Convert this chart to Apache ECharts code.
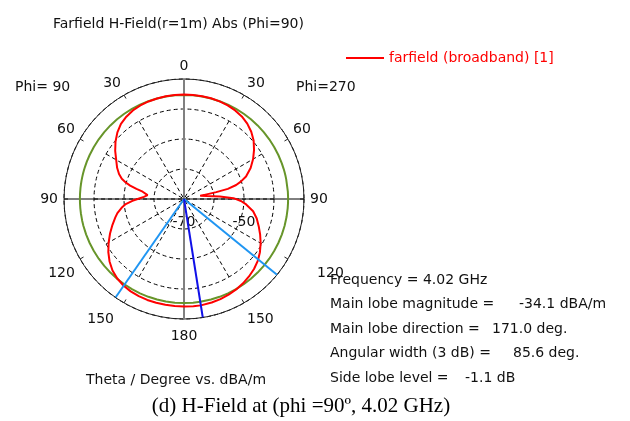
<!DOCTYPE html>
<html>
<head>
<meta charset="utf-8">
<script src="https://cdn.jsdelivr.net/npm/echarts@6/dist/echarts.min.js"></script>
<style>
  html, body { margin: 0; background: #fff; }
  #chart { width: 630px; height: 421px; }
</style>
</head>
<body>
<div id="chart"></div>
<script>
// theta in degrees (clockwise from top), farfield in dBA/m
const theta = [0, 5, 10, 15, 20, 25, 30, 35, 40, 45, 50, 55, 60, 65, 70, 73, 75, 77, 78, 79, 86, 89, 92, 95, 100, 105, 110, 115, 120, 125, 130, 135, 140, 145, 150, 155, 160, 165, 171, 175, 180, 185, 190, 195, 200, 205, 210, 215, 220, 225, 230, 235, 240, 245, 250, 255, 258, 262, 265, 268, 271, 273, 276, 278, 280, 282, 284, 286, 288, 291, 295, 300, 305, 310, 315, 320, 325, 330, 335, 340, 345, 350, 355, 360]
const farfield = [-35.2, -35.2, -35.2, -35.25, -35.35, -35.55, -35.9, -36.4, -37.2, -38.3, -39.7, -41.5, -43.4, -45.5, -48.0, -50.2, -52.0, -55.0, -59.0, -64.5, -58.0, -53.5, -51.0, -49.2, -46.6, -44.9, -43.5, -42.0, -40.5, -39.1, -37.9, -37.0, -36.3, -35.7, -35.2, -34.8, -34.5, -34.3, -34.1, -34.15, -34.2, -34.2, -34.2, -34.2, -34.2, -34.3, -34.45, -34.8, -35.4, -36.3, -37.6, -39.2, -41.0, -42.8, -44.6, -46.3, -47.3, -49.0, -50.5, -52.8, -55.3, -56.6, -57.8, -57.3, -56.0, -53.8, -51.5, -49.7, -48.2, -46.8, -45.4, -43.9, -42.0, -40.2, -38.6, -37.3, -36.5, -35.9, -35.6, -35.4, -35.3, -35.25, -35.2, -35.2]

const mainLobeDir = 171.0
const beamEdges = [129.2, 214.8]
const refLevel = -35.3
const rMin = -70
const rMax = -30
const radiusLabels = [-70, -50]

const infoLabels = ["Frequency = 4.02 GHz", "Main lobe magnitude =", "Main lobe direction =", "Angular width (3 dB) =", "Side lobe level ="]
const infoValues = ["", "-34.1 dBA/m", "171.0 deg.", "85.6 deg.", "-1.1 dB"]
const infoValueX = [0, 519, 492, 513, 465]

const FONT = '"DejaVu Sans", Verdana, sans-serif'
const center = [184, 199]

const chart = echarts.init(document.getElementById("chart"))

const ray = (a) => [[rMin, a], [rMax, a]]

const graphics = []
infoLabels.forEach((t, i) => {
  const y = 280 + i * 24.6
  graphics.push({ type: "text", x: 330, y: y, style: { text: t, font: "14px " + FONT, fill: "#111", verticalAlign: "middle" } })
  if (infoValues[i]) {
    graphics.push({ type: "text", x: infoValueX[i], y: y, style: { text: infoValues[i], font: "14px " + FONT, fill: "#111", verticalAlign: "middle" } })
  }
})
graphics.push({ type: "text", x: 15, y: 87, style: { text: "Phi= 90", font: "14px " + FONT, fill: "#111", verticalAlign: "middle" } })
graphics.push({ type: "text", x: 296, y: 87, style: { text: "Phi=270", font: "14px " + FONT, fill: "#111", verticalAlign: "middle" } })
graphics.push({ type: "text", x: 86, y: 380, style: { text: "Theta / Degree vs. dBA/m", font: "14px " + FONT, fill: "#111", verticalAlign: "middle" } })
graphics.push({ type: "text", x: 301, y: 406, style: { text: "(d) H-Field at (phi =90º, 4.02 GHz)", font: '21px "Liberation Serif", "Times New Roman", serif', fill: "#000", align: "center", verticalAlign: "middle" } })

const labelRich = {
  n: { fontFamily: FONT, fontSize: 14, color: "#111" },
  b: { fontFamily: FONT, fontSize: 14, color: "#111", padding: [4, 0, 0, 0] },
  r120: { fontFamily: FONT, fontSize: 14, color: "#111", padding: [4, 0, 0, 24] },
  l150: { fontFamily: FONT, fontSize: 14, color: "#111", padding: [4, 7, 0, 0] },
}

const angleLabel = (v) => {
  if (v === 360) return ""
  const shown = v > 180 ? 360 - v : v
  if (v === 120) return "{r120|" + shown + "}"
  if (v === 210) return "{l150|" + shown + "}"
  if (v >= 150 && v <= 240) return "{b|" + shown + "}"
  return "{n|" + shown + "}"
}

const option = {
  animation: false,
  backgroundColor: "#fff",
  title: {
    text: "Farfield H-Field(r=1m) Abs (Phi=90)",
    left: 48,
    top: 12,
    textStyle: { fontFamily: FONT, fontSize: 14, fontWeight: "normal", color: "#111" },
  },
  legend: {
    data: ["farfield (broadband) [1]"],
    left: 341,
    top: 46,
    icon: "rect",
    itemWidth: 38,
    itemHeight: 2,
    itemGap: 8,
    textStyle: { fontFamily: FONT, fontSize: 14, color: "#ff0000" },
  },
  polar: [
    { center: center, radius: 120 },
    { center: center, radius: 90 },
    { center: center, radius: 120 },
  ],
  angleAxis: [
    {
      polarIndex: 0,
      type: "value",
      min: 0,
      max: 360,
      interval: 30,
      startAngle: 90,
      clockwise: true,
      axisLine: { lineStyle: { color: "#222", width: 1 } },
      axisTick: { show: true, inside: true, length: 4, lineStyle: { color: "#222" } },
      axisLabel: {
        margin: 6,
        fontFamily: FONT,
        fontSize: 14,
        color: "#111",
        formatter: angleLabel,
        rich: labelRich,
      },
      splitLine: { show: false },
    },
    {
      polarIndex: 1,
      type: "value",
      min: 0,
      max: 360,
      interval: 30,
      startAngle: 90,
      clockwise: true,
      axisLine: { show: false },
      axisTick: { show: false },
      axisLabel: { show: false },
      splitLine: { show: true, lineStyle: { color: "#000", type: [4, 3], width: 1 } },
    },
    {
      polarIndex: 2,
      type: "value",
      min: 0,
      max: 360,
      startAngle: 0,
      show: false,
    },
  ],
  radiusAxis: [
    {
      polarIndex: 0,
      type: "value",
      min: rMin,
      max: rMax,
      interval: 10,
      axisLine: { show: false },
      axisTick: { show: false },
      axisLabel: { show: false },
      splitLine: { show: true, lineStyle: { color: "#000", type: [4, 3], width: 1 } },
    },
    { polarIndex: 1, type: "value", min: 0, max: 1, show: false },
    {
      polarIndex: 2,
      type: "value",
      min: rMin,
      max: rMax,
      interval: 10,
      axisLine: { show: false },
      axisTick: { show: false },
      splitLine: { show: false },
      axisLabel: {
        margin: -23,
        verticalAlign: "middle",
        fontFamily: FONT,
        fontSize: 14,
        color: "#111",
        formatter: (v) => (radiusLabels.includes(v) ? String(v) : ""),
      },
    },
  ],
  series: [
    {
      type: "line", coordinateSystem: "polar", polarIndex: 0, silent: true, symbol: "none",
      data: [[rMax, 0], [rMin, 0], [rMax, 180]],
      lineStyle: { color: "#808080", width: 2 },
    },
    {
      type: "line", coordinateSystem: "polar", polarIndex: 0, silent: true, symbol: "none",
      data: [[rMax, 90], [rMin, 90], [rMax, 270]],
      lineStyle: { color: "#000", width: 1 },
    },
    {
      type: "line", coordinateSystem: "polar", polarIndex: 0, silent: true, symbol: "none",
      data: theta.map((t) => [refLevel, t]),
      lineStyle: { color: "#67952a", width: 2 },
    },
    {
      name: "farfield (broadband) [1]",
      type: "line", coordinateSystem: "polar", polarIndex: 0, symbol: "none",
      data: theta.map((t, i) => [farfield[i], t]),
      lineStyle: { color: "#ff0000", width: 2 },
      itemStyle: { color: "#ff0000" },
    },
    {
      type: "line", coordinateSystem: "polar", polarIndex: 0, silent: true, symbol: "none",
      data: ray(beamEdges[0]),
      lineStyle: { color: "#1f95f2", width: 2 },
    },
    {
      type: "line", coordinateSystem: "polar", polarIndex: 0, silent: true, symbol: "none",
      data: ray(beamEdges[1]),
      lineStyle: { color: "#1f95f2", width: 2 },
    },
    {
      type: "line", coordinateSystem: "polar", polarIndex: 0, silent: true, symbol: "none",
      data: ray(mainLobeDir),
      lineStyle: { color: "#1010e8", width: 2 },
    },
  ],
  graphic: graphics,
}

chart.setOption(option)
</script>
</body>
</html>
